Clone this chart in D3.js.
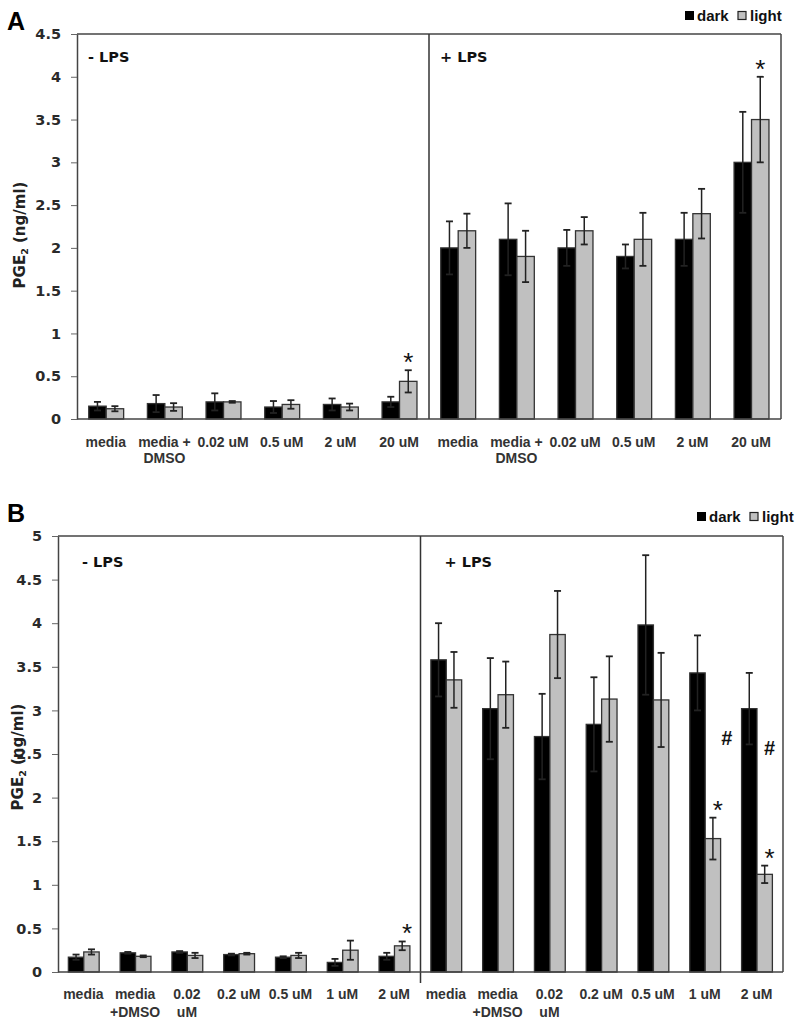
<!DOCTYPE html>
<html><head><meta charset="utf-8">
<script src="https://cdn.jsdelivr.net/npm/d3@7"></script>
<style>body{margin:0;background:#fff}svg{display:block}</style>
</head><body>
<script>
// ---------- Panel A data ----------
const categoriesA = ["media","media +|DMSO","0.02 uM","0.5 uM","2 uM","20 uM",
                     "media","media +|DMSO","0.02 uM","0.5 uM","2 uM","20 uM"];
const darkA     = [0.15,0.18,0.20,0.14,0.17,0.20, 2.00,2.10,2.00,1.90,2.10,3.00];
const darkErrA  = [0.05,0.10,0.10,0.07,0.07,0.06, 0.31,0.42,0.21,0.14,0.31,0.59];
const lightA    = [0.12,0.14,0.20,0.17,0.14,0.44, 2.20,1.90,2.20,2.10,2.40,3.50];
const lightErrA = [0.03,0.045,0.01,0.05,0.04,0.13, 0.20,0.30,0.16,0.31,0.29,0.50];
const ticksA = [0,0.5,1,1.5,2,2.5,3,3.5,4,4.5];
const starsA = [5, 11];

// ---------- Panel B data ----------
const categoriesB = ["media","media|+DMSO","0.02|uM","0.2 uM","0.5 uM","1 uM","2 uM",
                     "media","media|+DMSO","0.02|uM","0.2 uM","0.5 uM","1 uM","2 uM"];
const darkB     = [0.17,0.22,0.23,0.20,0.17,0.11,0.18, 3.58,3.02,2.70,2.84,3.98,3.43,3.02];
const darkErrB  = [0.03,0.01,0.01,0.01,0.01,0.04,0.04, 0.42,0.58,0.49,0.54,0.80,0.43,0.41];
const lightB    = [0.23,0.18,0.19,0.21,0.19,0.25,0.30, 3.35,3.18,3.87,3.13,3.12,1.53,1.12];
const lightErrB = [0.03,0.01,0.03,0.01,0.03,0.11,0.05, 0.32,0.38,0.50,0.49,0.54,0.24,0.10];
const ticksB = [0,0.5,1,1.5,2,2.5,3,3.5,4,4.5,5];
const starsB = [6, 12, 13];
const hashCatsB = [12, 13];
const hashValsB = [2.68, 2.57];

const seriesNames = ["dark","light"];
const groupLabels = ["- LPS","+ LPS"];

const W = 800, H = 1023;
const svg = d3.select("body").append("svg").attr("width", W).attr("height", H);

const NUM = "'DejaVu Sans', sans-serif";
const ARIAL = "'Liberation Sans', Arial, sans-serif";

function panel(cfg) {
  const g = svg.append("g");
  const n = cfg.cats.length;
  const x = d3.scaleBand().domain(d3.range(n)).range([cfg.left, cfg.right]).padding(0);
  const bw = x.bandwidth();
  const xs = d3.scaleBand().domain(seriesNames).range([bw*0.2, bw*0.795]).padding(0);
  const y = d3.scaleLinear().domain([0, cfg.ymax]).range([cfg.bottom, cfg.top]);

  // box: top and right borders
  g.append("line").attr("x1", cfg.left).attr("x2", cfg.right).attr("y1", cfg.top).attr("y2", cfg.top)
    .attr("stroke", "#444").attr("stroke-width", 1.5);
  g.append("line").attr("x1", cfg.right).attr("x2", cfg.right).attr("y1", cfg.top).attr("y2", cfg.bottom)
    .attr("stroke", "#444").attr("stroke-width", 1.5);
  // divider
  const half = x(n/2);
  g.append("line").attr("x1", half).attr("x2", half).attr("y1", cfg.top).attr("y2", cfg.bottom + cfg.divExt)
    .attr("stroke", "#333").attr("stroke-width", 1.5);

  const rows = cfg.cats.map((c,i)=>({i, dark:cfg.dark[i], light:cfg.light[i], darkErr:cfg.darkErr[i], lightErr:cfg.lightErr[i]}));
  const items = [];
  rows.forEach(r => seriesNames.forEach(s => items.push({i:r.i, s, v:r[s], e:r[s+"Err"]})));

  // bars
  g.selectAll("rect.bar").data(items).join("rect")
    .attr("x", d => x(d.i) + xs(d.s))
    .attr("y", d => y(d.v))
    .attr("width", xs.bandwidth())
    .attr("height", d => y(0) - y(d.v))
    .attr("fill", d => d.s === "dark" ? "#000" : "#c0c0c0")
    .attr("stroke", "#333").attr("stroke-width", 1.3);

  // error bars
  const eb = g.selectAll("g.eb").data(items).join("g");
  eb.append("line")
    .attr("x1", d => x(d.i) + xs(d.s) + xs.bandwidth()/2)
    .attr("x2", d => x(d.i) + xs(d.s) + xs.bandwidth()/2)
    .attr("y1", d => y(d.v - d.e)).attr("y2", d => y(d.v + d.e))
    .attr("stroke", "#222").attr("stroke-width", 1.5);
  [1,-1].forEach(sign => {
    eb.append("line")
      .attr("x1", d => x(d.i) + xs(d.s) + xs.bandwidth()/2 - 3.5)
      .attr("x2", d => x(d.i) + xs(d.s) + xs.bandwidth()/2 + 3.5)
      .attr("y1", d => y(d.v + sign*d.e)).attr("y2", d => y(d.v + sign*d.e))
      .attr("stroke", "#222").attr("stroke-width", 1.8);
  });

  // axes lines
  g.append("line").attr("x1", cfg.left).attr("x2", cfg.right).attr("y1", cfg.bottom).attr("y2", cfg.bottom)
    .attr("stroke", "#444").attr("stroke-width", 1.5);
  const ax = g.append("g").attr("transform", `translate(${cfg.left},0)`)
    .call(d3.axisLeft(y).tickValues(cfg.ticks).tickSize(6).tickSizeOuter(0).tickPadding(10).tickFormat(d3.format("~g")));
  ax.select(".domain").attr("stroke", "#444").attr("stroke-width", 1.5);
  ax.selectAll(".tick line").attr("stroke", "#666");
  ax.selectAll(".tick text").attr("font-family", NUM).attr("font-weight", "bold")
    .attr("font-size", "14.5px").attr("fill", "#2a2a2a");

  // x labels
  const xl = g.selectAll("text.xl").data(cfg.cats).join("text")
    .attr("text-anchor", "middle")
    .attr("font-family", ARIAL).attr("font-weight", "bold").attr("font-size", "14px").attr("fill", "#333");
  xl.each(function(d,i){
    const t = d3.select(this);
    d.split("|").forEach((ln,k) => {
      t.append("tspan").attr("x", x(i) + bw*0.49).attr("y", cfg.bottom + cfg.lab1 + k*cfg.labGap).text(ln);
    });
  });

  // group labels
  groupLabels.forEach((lab,k) => {
    g.append("text").attr("x", (k===0 ? cfg.left : half) + cfg.glx).attr("y", cfg.gly)
      .attr("font-family", NUM).attr("font-weight", "bold").attr("font-size", "14.5px").attr("fill", "#111")
      .text(lab);
  });

  // stars
  cfg.stars.forEach(i => {
    const cx = x(i) + xs("light") + xs.bandwidth()/2 + cfg.starDx;
    const cy = y(cfg.light[i] + cfg.lightErr[i]) - 14;
    g.append("text").attr("x", cx).attr("y", cy + 15).attr("text-anchor", "middle")
      .attr("font-family", ARIAL).attr("font-size", "26px").attr("fill", "#111").text("*");
  });
  // hashes
  (cfg.hashCats || []).forEach((i,k) => {
    const cx = x(i) + xs("light") + xs.bandwidth()/2 + cfg.hashDx[k];
    g.append("text").attr("x", cx).attr("y", y(cfg.hashVals[k]) + 7).attr("text-anchor", "middle")
      .attr("font-family", ARIAL).attr("font-weight", "bold").attr("font-size", "20px").attr("fill", "#111").text("#");
  });

  // y title
  const tt = g.append("text")
    .attr("transform", `translate(${cfg.titleX},${cfg.titleY}) rotate(-90)`)
    .attr("text-anchor", "middle")
    .attr("font-family", NUM).attr("font-weight", "bold").attr("font-size", "15px").attr("fill", "#222");
  tt.append("tspan").text("PGE");
  tt.append("tspan").attr("font-size", "9.5px").attr("dy", 3).text("2");
  tt.append("tspan").attr("dy", -3).text(" (ng/ml)");

  // panel letter
  g.append("text").attr("x", cfg.letterX).attr("y", cfg.letterY)
    .attr("font-family", ARIAL).attr("font-weight", "bold").attr("font-size", "25px").attr("fill", "#000")
    .text(cfg.letter);

  // legend
  const lg = g.append("g").attr("transform", `translate(${cfg.legX},${cfg.legY})`);
  lg.append("rect").attr("x", 0).attr("y", -10).attr("width", 9).attr("height", 9).attr("fill", "#000");
  lg.append("text").attr("x", 12).attr("y", 0).attr("font-family", ARIAL).attr("font-weight", "bold")
    .attr("font-size", "15px").attr("fill", "#111").text(seriesNames[0]);
  lg.append("rect").attr("x", 53).attr("y", -9.5).attr("width", 8).attr("height", 8)
    .attr("fill", "#c0c0c0").attr("stroke", "#222").attr("stroke-width", 1.2);
  lg.append("text").attr("x", 65).attr("y", 0).attr("font-family", ARIAL).attr("font-weight", "bold")
    .attr("font-size", "15px").attr("fill", "#111").text(seriesNames[1]);
}

panel({
  cats: categoriesA, dark: darkA, darkErr: darkErrA, light: lightA, lightErr: lightErrA,
  ticks: ticksA, ymax: 4.5, left: 77, right: 781, top: 34, bottom: 419, divExt: 0,
  lab1: 28, labGap: 16, glx: 11, gly: 62, stars: starsA, starDx: 0,
  titleX: 25, titleY: 235, letter: "A", letterX: 7, letterY: 30, legX: 685, legY: 21
});

panel({
  cats: categoriesB, dark: darkB, darkErr: darkErrB, light: lightB, lightErr: lightErrB,
  ticks: ticksB, ymax: 5, left: 58, right: 783, top: 536, bottom: 972, divExt: 11,
  lab1: 27, labGap: 18, glx: 24, gly: 567, stars: starsB, starDx: 5,
  hashCats: hashCatsB, hashVals: hashValsB, hashDx: [14, 5],
  titleX: 23, titleY: 757, letter: "B", letterX: 7, letterY: 522, legX: 697, legY: 522
});
</script>
</body></html>
